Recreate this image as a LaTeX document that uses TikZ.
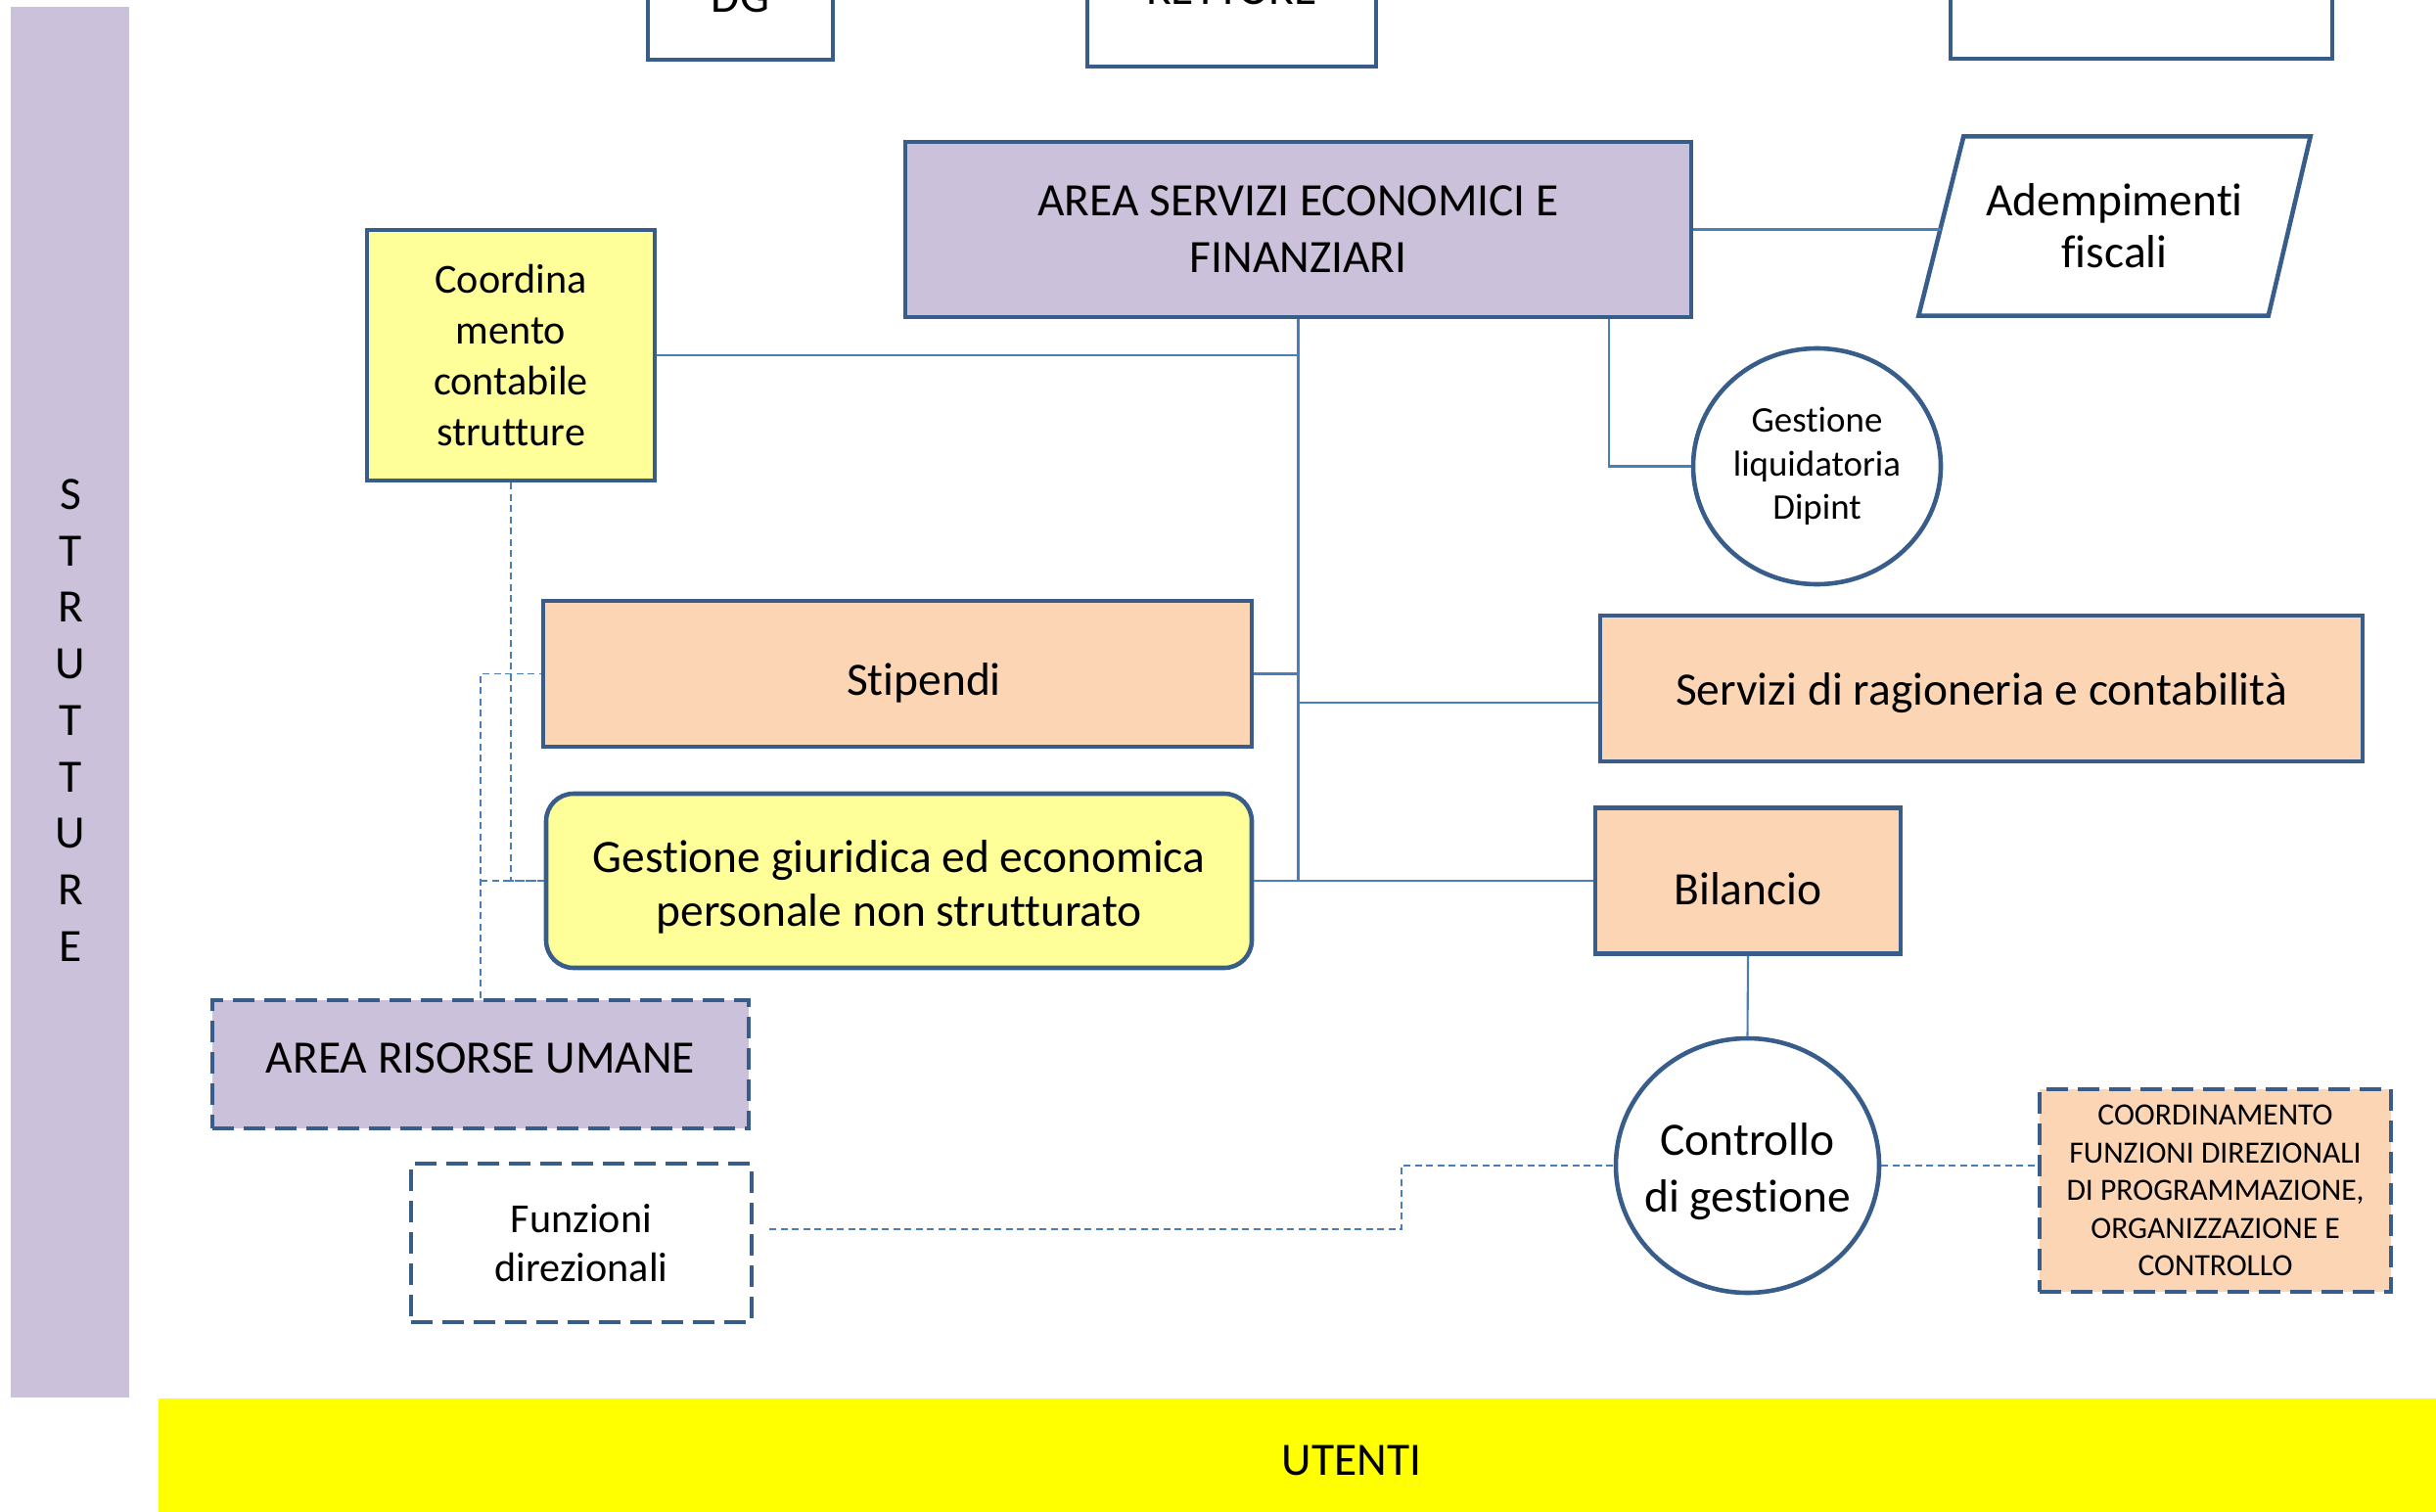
\documentclass[tikz,border=0pt]{standalone}
\usepackage{fontspec}
\setmainfont{Carlito}[Ligatures=NoCommon]
\usepackage{tikz}
\usetikzlibrary{shapes.geometric}
\definecolor{lilla}{HTML}{CCC1DA}
\definecolor{pesca}{HTML}{FCD5B5}
\definecolor{giallino}{HTML}{FFFF99}
\definecolor{giallo}{HTML}{FFFF00}
\definecolor{bordoblu}{HTML}{385D8A}
\definecolor{lineablu}{HTML}{4A7EBB}
% testo spostato in verticale senza cambiare la misura del nodo
\newcommand{\giu}[2]{\raisebox{#1}[\height][\depth]{#2}}

\begin{document}
\begin{tikzpicture}[
  box/.style={draw=bordoblu, fill=white, line width=1.3pt, align=center,
              inner sep=0pt, font=\fontsize{13.5}{16.5}\selectfont},
  tratteggio/.style={dash pattern=on 2.2mm off 1mm},
  conn/.style={draw=lineablu, line width=0.6pt},
  connt/.style={draw=lineablu, line width=0.45pt, dash pattern=on 0.7mm off 0.45mm}]

\useasboundingbox (0,0) rectangle (24.89,-15.45);
\clip (0,0) rectangle (24.89,-15.45);

% ── Fasce laterali ───────────────────────────────────────────────────
\fill[lilla] (0.11,-0.07) rectangle (1.32,-14.28);
\node[font=\fontsize{13.5}{16.43}\selectfont, align=center]
  (strutture) at (0.72,-7.36) {S\\T\\R\\U\\T\\T\\U\\R\\E};

\node[fill=giallo, minimum width=24.38cm, minimum height=1.26cm,
      font=\fontsize{13.5}{16.5}\selectfont]
  (utenti) at (13.81,-14.92) {UTENTI};

% ── Vertice (tagliato in alto) ───────────────────────────────────────
\node[box, minimum width=1.89cm, minimum height=1.28cm] (dg) at (7.565,0.03) {DG};
\node[box, minimum width=2.95cm, minimum height=1.58cm] (rettore) at (12.585,0.11) {RETTORE};
\node[box, minimum width=3.90cm, minimum height=1.40cm] (vertice) at (21.88,0.10) {};

% ── Area servizi economici e finanziari ──────────────────────────────
\node[box, fill=lilla, minimum width=8.03cm, minimum height=1.79cm]
  (aseff) at (13.265,-2.345) {AREA SERVIZI ECONOMICI E\\FINANZIARI};

% parallelogramma: nodo senza bordo, contorno disegnato sugli angoli
\node[align=center, inner sep=0pt, minimum width=3.99cm, minimum height=1.82cm,
      font=\fontsize{13.5}{15.1}\selectfont]
  (adem) at (21.605,-2.31) {Adempimenti\\fiscali};
\draw[draw=bordoblu, line width=1.3pt, line join=miter]
  (adem.south west) -- ([xshift=-4.3mm]adem.south east) -- (adem.north east)
  -- ([xshift=4.6mm]adem.north west) -- cycle;

\node[box, ellipse, font=\fontsize{10.5}{12.7}\selectfont,
      minimum width=2.53cm, minimum height=2.41cm]
  (liq) at (18.565,-4.765) {Gestione\\liquidatoria\\Dipint};

\node[box, fill=giallino, font=\fontsize{12}{14.8}\selectfont,
      minimum width=2.94cm, minimum height=2.56cm]
  (coord) at (5.22,-3.63) {Coordina\\mento\\contabile\\strutture};

% ── Uffici ───────────────────────────────────────────────────────────
\node[box, fill=pesca, minimum width=7.24cm, minimum height=1.49cm]
  (stip) at (9.17,-6.885) {\hspace*{0.54cm}\giu{-2.6pt}{Stipendi}};

\node[box, fill=pesca, minimum width=7.79cm, minimum height=1.49cm]
  (serv) at (20.245,-7.035) {\giu{-1.4pt}{Servizi di ragioneria e contabilità}};

\node[box, fill=giallino, rounded corners=0.28cm, minimum width=7.21cm,
      minimum height=1.78cm, font=\fontsize{13.5}{15.9}\selectfont]
  (ggiur) at (9.185,-9.00)
  {\giu{-1.8pt}{Gestione giuridica ed economica}\\\giu{-1.8pt}{personale non strutturato}};

\node[box, fill=pesca, minimum width=3.12cm, minimum height=1.49cm]
  (bil) at (17.86,-9.00) {\giu{-2.3pt}{Bilancio}};

\node[box, ellipse, inner xsep=-0.2cm, minimum width=2.69cm, minimum height=2.60cm]
  (ctrl) at (17.855,-11.91) {\giu{-1.6pt}{Controllo}\\\giu{-1.6pt}{di gestione}};

% ── Riquadri tratteggiati ────────────────────────────────────────────
\node[box, fill=lilla, tratteggio, minimum width=5.48cm, minimum height=1.31cm]
  (aru) at (4.91,-10.875) {\giu{1.8pt}{AREA RISORSE UMANE}};

\node[box, tratteggio, font=\fontsize{12}{14.2}\selectfont,
      minimum width=3.48cm, minimum height=1.62cm]
  (funz) at (5.94,-12.70) {Funzioni\\direzionali};

\node[box, fill=pesca, tratteggio, font=\fontsize{9}{10.95}\selectfont,
      minimum width=3.59cm, minimum height=2.07cm]
  (cfd) at (22.635,-12.165)
  {COORDINAMENTO\\FUNZIONI DIREZIONALI\\DI PROGRAMMAZIONE,\\ORGANIZZAZIONE E\\CONTROLLO};

% ── Collegamenti ─────────────────────────────────────────────────────
\draw[conn] (aseff.south) -- (aseff.south |- ggiur.east);
\draw[conn] (coord.east) -- (coord.east -| aseff.south);
\draw[conn] (stip.east) -- (stip.east -| aseff.south);
\coordinate (jserv) at (13.265,-7.18);
\draw[conn] (jserv) -- (jserv -| serv.west);
\draw[conn] (ggiur.east) -- (bil.west);
\draw[conn] ([xshift=-0.86cm]aseff.south east) |- (liq.west);
\coordinate (ademW) at ([xshift=2.3mm]adem.west);
\draw[conn] (aseff.east) -- (aseff.east -| ademW);
\draw[conn] (bil.south) -- (ctrl.north);

% tratteggiati
\draw[connt] (coord.south) |- (ggiur.west);
\draw[connt] (aru.north) |- (stip.west);
\draw[connt] (aru.north |- ggiur.west) -- (ggiur.west);
\coordinate (gomito) at (14.32,-12.56);
\draw[connt] ([xshift=1.6mm,yshift=1.4mm]funz.east) -- (gomito) |- (ctrl.west);
\draw[connt] (ctrl.east) -- (ctrl.east -| cfd.west);

\end{tikzpicture}
\end{document}
